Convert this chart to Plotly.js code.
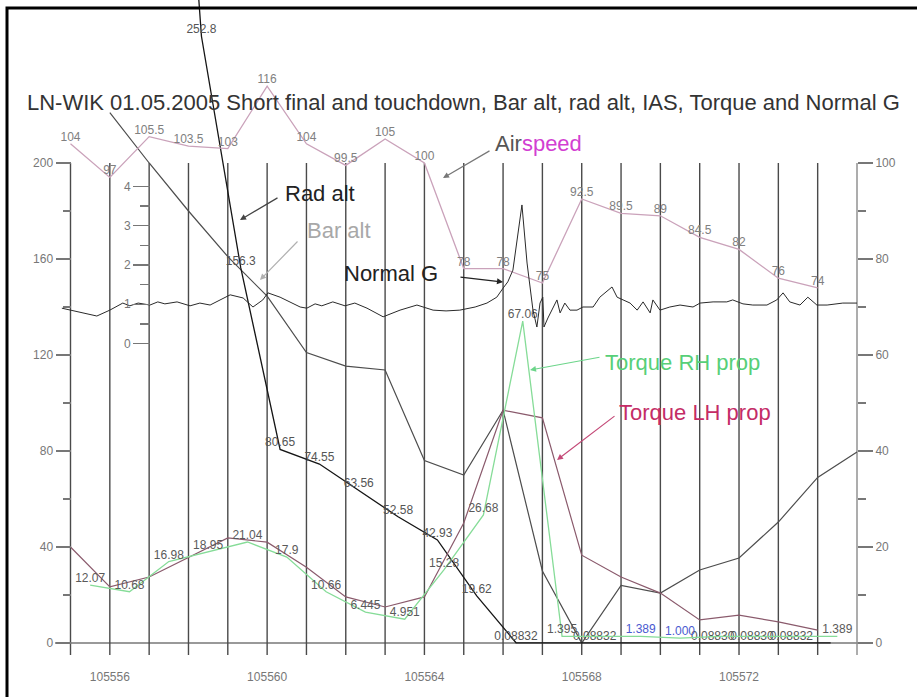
<!DOCTYPE html>
<html>
<head>
<meta charset="utf-8">
<script src="https://cdn.plot.ly/plotly-3.0.1.min.js"></script>
<style>
  html, body { margin: 0; padding: 0; background: #fff; }
  #chart { width: 917px; height: 697px; }
</style>
</head>
<body>
<div id="chart"></div>
<script>
// ---- Flight data, LN-WIK 01.05.2005, short final and touchdown ----
// Time axis in seconds (recorder time)

// Indicated airspeed, kt (right axis)
const iasTime = [105555, 105556, 105557, 105558, 105559, 105560, 105561, 105562, 105563, 105564,
                 105565, 105566, 105567, 105568, 105569, 105570, 105571, 105572, 105573, 105574];
const iasKt   = [104, 97, 105.5, 103.5, 103, 116, 104, 99.5, 105, 100,
                 78, 78, 75, 92.5, 89.5, 89, 84.5, 82, 76, 74];

// Radio altitude, ft (left axis)
const radAltTime = [105557.33, 105558.33, 105559.33, 105560.33, 105561.33, 105562.33, 105563.33, 105564.33, 105565.33,
                    105566.33, 105567.33, 105568.33, 105569.33, 105570.33, 105571.33, 105572.33, 105573.33, 105574.33];
const radAltFt   = [480, 252.8, 156.3, 80.65, 74.55, 63.56, 52.58, 42.93, 19.62,
                    0.08832, 0.08832, 0.08832, 0.08832, 0.08832, 0.0883, 0.0883, 0.08832, 0.08832];
// points whose value is printed beside the line
const radAltLabelled = [1, 2, 3, 4, 5, 6, 7, 8, 9, 11, 14, 15, 16];

// Barometric altitude, ft (left axis)
const barAltTime = [105556, 105557, 105558, 105559, 105560, 105561, 105562, 105563, 105564, 105565,
                    105566, 105567, 105568, 105569, 105570, 105571, 105572, 105573, 105574, 105575];
const barAltFt   = [221, 200, 180, 161, 144.5, 121, 115.4, 113.75, 76, 70,
                    97, 30, 0, 24, 20.8, 30.4, 35.4, 50.4, 69, 79.6];

// Torque, LH propeller, % (right axis)
const torqueLhTime = [105555, 105556, 105557, 105558, 105559, 105560, 105561, 105562, 105563, 105564,
                      105565, 105566, 105567, 105568, 105569, 105570, 105571, 105572, 105573, 105574];
const torqueLh     = [20, 11.7, 13.75, 17.9, 21.9, 21, 15.8, 9.6, 7.5, 9.6,
                      25, 48.5, 46.9, 18.3, 13.75, 10.4, 4.8, 5.8, 4.4, 2.7];

// Torque, RH propeller, % (right axis)
const torqueRhTime = [105555.5, 105556.5, 105557.5, 105558.5, 105559.5, 105560.5, 105561.5, 105562.5, 105563.5, 105564.5,
                      105565.5, 105566.5, 105567.5, 105568.5, 105569.5, 105570.5, 105571.5, 105572.5, 105573.5, 105574.5];
const torqueRh     = [12.07, 10.68, 16.98, 18.95, 21.04, 17.9, 10.66, 6.445, 4.951, 15.28,
                      26.68, 67.06, 1.395, 1.389, 1.389, 1.000, 1.389, 1.389, 1.389, 1.389];
const torqueRhLabelled = [0, 1, 2, 3, 4, 5, 6, 7, 8, 9, 10, 11, 12, 14, 15, 19];

// Normal acceleration, g (inner axis)
const gTime = [105554.78, 105555.24, 105555.67, 105556.00, 105556.18, 105556.33, 105556.51, 105556.72, 105557.02, 105557.22,
               105557.40, 105557.71, 105558.04, 105558.29, 105558.55, 105558.80, 105559.06, 105559.39, 105559.64, 105559.89,
               105560.02, 105560.33, 105560.84, 105561.01, 105561.22, 105561.39, 105561.67, 105561.98, 105562.23, 105562.54,
               105562.95, 105563.38, 105563.81, 105564.22, 105564.55, 105564.90, 105565.29, 105565.59, 105565.84, 105566.00,
               105566.12, 105566.25, 105566.48, 105566.61, 105566.76, 105566.86, 105566.94, 105567.01, 105567.04, 105567.14,
               105567.27, 105567.37, 105567.45, 105567.57, 105567.70, 105567.88, 105568.03, 105568.29, 105568.46, 105568.59,
               105568.77, 105568.90, 105569.05, 105569.23, 105569.41, 105569.56, 105569.74, 105569.81, 105569.99, 105570.24,
               105570.50, 105570.83, 105571.01, 105571.34, 105571.69, 105571.84, 105572.10, 105572.35, 105572.71, 105572.96,
               105573.12, 105573.29, 105573.55, 105573.75, 105573.98, 105574.24, 105574.64, 105575.00];
const gLoad = [0.90, 0.80, 0.70, 0.85, 0.96, 1.03, 0.96, 1.03, 0.98, 1.06,
               1.01, 1.06, 0.96, 1.03, 0.98, 1.11, 1.24, 1.16, 0.93, 1.11,
               1.29, 1.18, 0.93, 0.90, 1.01, 0.96, 1.06, 0.96, 1.03, 0.90,
               0.68, 0.85, 0.98, 0.85, 0.83, 0.85, 0.93, 1.03, 1.18, 1.41,
               1.57, 1.87, 3.53, 2.05, 0.85, 0.42, 1.03, 1.18, 0.42, 0.65,
               0.93, 1.11, 0.78, 1.03, 0.85, 0.85, 0.93, 0.93, 1.18, 1.29,
               1.44, 1.18, 1.11, 1.03, 0.85, 1.06, 0.78, 1.11, 0.85, 0.93,
               0.98, 0.93, 1.03, 1.06, 1.06, 1.11, 1.01, 0.98, 0.98, 1.11,
               1.29, 1.06, 0.98, 1.18, 0.98, 0.98, 1.03, 1.03];

// Axis ticks
const xTickVals  = [105556, 105560, 105564, 105568, 105572];
const xTickText  = ['105556', '105560', '105564', '105568', '105572'];
const altTicks   = [0, 40, 80, 120, 160, 200];
const altMinor   = [20, 60, 100, 140, 180];
const pctTicks   = [0, 20, 40, 60, 80, 100];
const pctMinor   = [10, 30, 50, 70, 90];
const gTicks     = [0, 1, 2, 3, 4];
const gMinor     = [0.5, 1.5, 2.5, 3.5];
const firstSecond = 105555, lastSecond = 105575;

// ---- Layout geometry ----
const W = 917, H = 697;
const M = { l: 55, r: 44, t: 0, b: 37 };
const plotW = W - M.l - M.r, plotH = H - M.t - M.b;
const px = v => (v - M.l) / plotW;          // page pixel -> paper x
const py = v => (H - M.b - v) / plotH;      // page pixel -> paper y

const FONT = 'Liberation Sans, Arial, sans-serif';
const small = { family: FONT, size: 12, color: '#777' };

// value labels, printed only for the listed points
const fmtRad = v => v.toPrecision(4);
const fmtTorque = v => Number.isInteger(v) ? v.toFixed(3) : String(v);
const radAltText = radAltFt.map((v, i) => radAltLabelled.includes(i) ? fmtRad(v) : '');
const torqueRhText = torqueRh.map((v, i) => torqueRhLabelled.includes(i) ? fmtTorque(v) : '');
const torqueRhTextColor = torqueRhTime.map(t => (t > 105569 && t < 105571) ? '#4a5ad0' : '#5a5a5a');

const traces = [
  { x: gTime, y: gLoad, yaxis: 'y3', mode: 'lines', line: { color: '#2a2a2a', width: 1 } },
  { x: barAltTime, y: barAltFt, yaxis: 'y', mode: 'lines', line: { color: '#4d4d4d', width: 1.2 } },
  { x: torqueLhTime, y: torqueLh, yaxis: 'y2', mode: 'lines', line: { color: '#8a5a6c', width: 1.2 } },
  { x: torqueRhTime, y: torqueRh, yaxis: 'y2', mode: 'lines+text', text: torqueRhText,
    textposition: 'top center', textfont: { family: FONT, size: 12, color: torqueRhTextColor },
    line: { color: '#86dc98', width: 1.3 } },
  { x: radAltTime, y: radAltFt, yaxis: 'y', mode: 'lines+text', text: radAltText,
    textposition: 'top center', textfont: { family: FONT, size: 12, color: '#555' },
    line: { color: '#151515', width: 1.3 } },
  { x: iasTime, y: iasKt, yaxis: 'y2', mode: 'lines+text', text: iasKt.map(String),
    textposition: 'top center', textfont: { family: FONT, size: 12, color: '#808080' },
    line: { color: '#caa2ba', width: 1.3 } }
];

// Vertical second lines and the zero baseline
const shapes = [];
for (let s = firstSecond; s <= lastSecond; s++) {
  shapes.push({ type: 'line', layer: 'below', xref: 'x', yref: 'y', x0: s, x1: s, y0: -5, y1: 200,
                line: { color: s === lastSecond ? '#8a8a8a' : '#4a4a4a', width: 1.4 } });
}
shapes.push({ type: 'line', layer: 'below', xref: 'paper', yref: 'y', x0: 0, x1: 1, y0: 0, y1: 0,
              line: { color: '#777', width: 1.3 } });
// Page frame
shapes.push({ type: 'rect', xref: 'paper', yref: 'paper', x0: px(7), x1: px(960), y0: py(8), y1: py(740),
              line: { color: '#000', width: 3 } });

const tickStyle = { ticks: 'outside', tickcolor: '#777', tickwidth: 1.3 };

const note = (text, left, midY, color) => ({
  xref: 'paper', yref: 'paper', x: px(left), y: py(midY), xanchor: 'left', yanchor: 'middle',
  text: text, showarrow: false, font: { family: FONT, size: 22, color: color }
});
const arrow = (tipX, tipY, tailX, tailY, color) => ({
  xref: 'paper', yref: 'paper', x: px(tipX), y: py(tipY), ax: tailX - tipX, ay: tailY - tipY,
  text: ' ', font: { size: 1 }, showarrow: true, arrowhead: 2, arrowsize: 1, arrowwidth: 1.2,
  arrowcolor: color, standoff: 0, startstandoff: 0
});

const annotations = [
  note('LN-WIK 01.05.2005 Short final and touchdown, Bar alt, rad alt, IAS, Torque and Normal G', 25, 103, '#333'),
  note('Rad alt', 283, 193, '#222'),
  note('Bar alt', 305, 230, '#a8a8a8'),
  note('Normal G', 342, 273, '#222'),
  note('Air<span style="color:#d23fd2">speed</span>', 493, 143, '#555'),
  note('Torque RH prop', 603, 362, '#57cf78'),
  note('Torque LH prop', 617, 412, '#c42c66'),
  arrow(240, 220, 279, 197, '#444'),
  arrow(260, 280, 299, 240, '#b0b0b0'),
  arrow(503, 282, 459, 277, '#222'),
  arrow(443, 178, 491, 150, '#777'),
  arrow(530, 370, 601, 357, '#6cd58a'),
  arrow(557, 460, 616, 415, '#c44a78')
];

const xLo = firstSecond - (70.5 - M.l) / 39.325;
const xHi = lastSecond + (W - M.r - 857) / 39.325;

const layout = {
  width: W, height: H, margin: M,
  paper_bgcolor: '#fff', plot_bgcolor: 'rgba(0,0,0,0)',
  showlegend: false,
  xaxis: { range: [xLo, xHi], tickvals: xTickVals, ticktext: xTickText, showgrid: false, zeroline: false,
           showline: false, ticks: 'outside', ticklen: 6, tickcolor: 'rgba(0,0,0,0)', tickfont: small },
  yaxis: { range: [(643 - 660) / 2.4, 643 / 2.4], anchor: 'free', position: px(70.5),
           tickvals: altTicks, ticklen: 15, ...tickStyle,
           minor: { tickvals: altMinor, ticks: 'outside', ticklen: 8, tickcolor: '#777', tickwidth: 1.3 },
           showgrid: false, zeroline: false, showline: false, tickfont: small },
  yaxis2: { overlaying: 'y', side: 'right', anchor: 'free', position: px(857),
            range: [(643 - 660) / 4.8, 643 / 4.8],
            tickvals: pctTicks, ticklen: 15, ...tickStyle,
            minor: { tickvals: pctMinor, ticks: 'outside', ticklen: 8, tickcolor: '#777', tickwidth: 1.3 },
            showgrid: false, zeroline: false, showline: false, tickfont: small },
  yaxis3: { overlaying: 'y', side: 'left', anchor: 'free', position: px(150),
            range: [(343.5 - 660) / 39.25, 343.5 / 39.25],
            tickvals: gTicks, ticklen: 17, ...tickStyle,
            minor: { tickvals: gMinor, ticks: 'outside', ticklen: 10, tickcolor: '#777', tickwidth: 1.3 },
            showgrid: false, zeroline: false, showline: false, tickfont: small },
  shapes: shapes,
  annotations: annotations
};

Plotly.newPlot('chart', traces, layout, { staticPlot: true, displayModeBar: false });
</script>
</body>
</html>
